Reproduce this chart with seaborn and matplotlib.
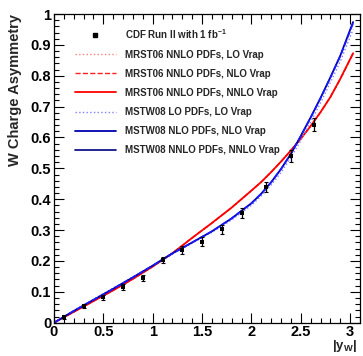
import numpy as np
import pandas as pd
import matplotlib
matplotlib.use("Agg")
import matplotlib.pyplot as plt
from matplotlib.ticker import MultipleLocator, FuncFormatter
from matplotlib.lines import Line2D
import seaborn as sns

# ---------------- data ----------------
# CDF Run II data (|y_W|, asymmetry, error)
cdf_x = [0.1, 0.3, 0.5, 0.7, 0.9, 1.1, 1.3, 1.5, 1.7, 1.9, 2.15, 2.4, 2.63]
cdf_y = [0.018, 0.055, 0.082, 0.116, 0.146, 0.203, 0.236, 0.262, 0.302, 0.355, 0.44, 0.54, 0.642]
cdf_err = [0.007, 0.007, 0.008, 0.009, 0.010, 0.011, 0.012, 0.014, 0.015, 0.016, 0.017, 0.020, 0.022]

# theory curves
th_x = [0.0, 0.2, 0.4, 0.6, 0.8, 1.0, 1.2, 1.4, 1.6, 1.8, 2.0, 2.1, 2.2, 2.3, 2.4,
        2.5, 2.6, 2.7, 2.8, 2.9, 3.03]
mrst_nnlo_lo = [0.0, 0.035, 0.070, 0.105, 0.142, 0.182, 0.225, 0.274, 0.322, 0.372, 0.427,
                0.455, 0.487, 0.521, 0.557, 0.595, 0.636, 0.681, 0.730, 0.788, 0.871]
mrst_nnlo_nlo = [0.0, 0.035, 0.070, 0.105, 0.142, 0.182, 0.225, 0.275, 0.323, 0.373, 0.428,
                 0.456, 0.488, 0.522, 0.558, 0.596, 0.637, 0.682, 0.731, 0.789, 0.872]
mrst_nnlo_nnlo = [0.0, 0.035, 0.070, 0.105, 0.142, 0.182, 0.225, 0.275, 0.323, 0.373, 0.428,
                  0.456, 0.488, 0.522, 0.558, 0.596, 0.637, 0.682, 0.731, 0.790, 0.873]
mstw_lo_lo = [0.0, 0.039, 0.076, 0.112, 0.148, 0.185, 0.222, 0.258, 0.293, 0.333, 0.380,
              0.411, 0.446, 0.487, 0.535, 0.590, 0.650, 0.712, 0.778, 0.846, 0.950]
mstw_nlo_nlo = [0.0, 0.038, 0.074, 0.110, 0.147, 0.185, 0.224, 0.260, 0.296, 0.338, 0.387,
                0.418, 0.455, 0.498, 0.547, 0.604, 0.664, 0.727, 0.794, 0.863, 0.970]
mstw_nnlo_nnlo = [0.0, 0.038, 0.074, 0.110, 0.147, 0.185, 0.225, 0.260, 0.296, 0.338, 0.387,
                  0.418, 0.455, 0.498, 0.547, 0.605, 0.665, 0.728, 0.795, 0.865, 0.974]

labels = ["CDF Run II with 1 fb$^{\\mathbf{-1}}$",
          "MRST06 NNLO PDFs, LO Vrap",
          "MRST06 NNLO PDFs, NLO Vrap",
          "MRST06 NNLO PDFs, NNLO Vrap",
          "MSTW08 LO PDFs, LO Vrap",
          "MSTW08 NLO PDFs, NLO Vrap",
          "MSTW08 NNLO PDFs, NNLO Vrap"]

# ---------------- style ----------------
sns.set_style("ticks")
plt.rcParams['font.family'] = ['Liberation Sans', 'DejaVu Sans']
plt.rcParams['font.weight'] = 'bold'
plt.rcParams['mathtext.fontset'] = 'custom'
plt.rcParams['mathtext.rm'] = 'Liberation Sans:bold'
plt.rcParams['mathtext.it'] = 'Liberation Sans:bold'
plt.rcParams['mathtext.bf'] = 'Liberation Sans:bold'

fig = plt.figure(figsize=(3.63, 3.56), dpi=100)
ax = fig.add_axes([54/363, (356-322.7)/356, (360-54)/363, (322.7-14)/356])

curves = [
    (mrst_nnlo_lo, dict(color="#ff8080", linestyle=":", linewidth=1.0)),
    (mrst_nnlo_nlo, dict(color="#ff2020", linestyle="--", linewidth=1.0)),
    (mrst_nnlo_nnlo, dict(color="#ff0000", linestyle="-", linewidth=1.3)),
    (mstw_lo_lo, dict(color="#8080ff", linestyle=":", linewidth=1.0)),
    (mstw_nnlo_nnlo, dict(color="#0000b0", linestyle="-", linewidth=1.3)),
    (mstw_nlo_nlo, dict(color="#1a1aff", linestyle="--", linewidth=1.2)),
]
for yv, st in curves:
    df = pd.DataFrame({"x": th_x, "y": yv})
    sns.lineplot(data=df, x="x", y="y", ax=ax, sort=False, estimator=None, **st)

ax.errorbar(cdf_x, cdf_y, yerr=cdf_err, fmt="none", ecolor="black",
            elinewidth=0.9, capsize=1.2, capthick=0.8, zorder=5)
sns.scatterplot(x=cdf_x, y=cdf_y, ax=ax, color="black", s=7, marker="s",
                edgecolor="black", linewidth=0, zorder=6)

ax.set_xlim(0, 3.1)
ax.set_ylim(0, 1.0)

ax.xaxis.set_major_locator(MultipleLocator(0.5))
ax.xaxis.set_minor_locator(MultipleLocator(0.1))
ax.yaxis.set_major_locator(MultipleLocator(0.1))
ax.yaxis.set_minor_locator(MultipleLocator(0.02))
fmt = FuncFormatter(lambda v, p: "%g" % round(v, 3))
ax.xaxis.set_major_formatter(fmt)
ax.yaxis.set_major_formatter(fmt)

ax.tick_params(which="both", direction="in", top=True, right=True, width=0.8, colors="black")
ax.tick_params(which="major", length=7, labelsize=10.5, pad=2)
ax.tick_params(which="minor", length=3.5)
ax.tick_params(axis="x", which="major", pad=1.5)
for lab in ax.get_xticklabels() + ax.get_yticklabels():
    lab.set_fontweight("bold")
for sp in ax.spines.values():
    sp.set_linewidth(0.9)
    sp.set_color("black")

ax.set_ylabel("W Charge Asymmetry", fontsize=10.5, fontweight="bold", loc="top")
ax.yaxis.set_label_coords(-0.105, 1.0)
ax.set_xlabel(r"$\mathbf{|y_{W}|}$", fontsize=9.5, loc="right")
ax.xaxis.set_label_coords(0.99, -0.051)

handles = [Line2D([], [], color="black", marker="s", markersize=2.2, linestyle="none")]
for yv, st in curves[:5]:
    handles.append(Line2D([], [], **st))
handles.append(Line2D([], [], color="#000080", linestyle="-", linewidth=1.2))
leg = ax.legend(handles, labels, loc="upper left", bbox_to_anchor=(0.068, 0.958),
                frameon=False, fontsize=7, handlelength=4.2, handletextpad=0.95,
                labelspacing=0.93, borderpad=0, borderaxespad=0)
for t in leg.get_texts():
    t.set_fontweight("bold")

fig.savefig("out.png", dpi=100)
